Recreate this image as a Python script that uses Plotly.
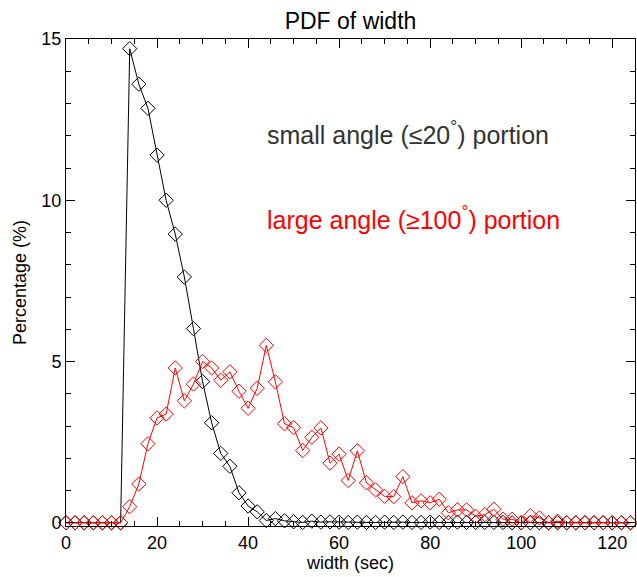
import plotly.graph_objects as go

x_vals = list(range(0, 126, 2))

small_angle = [0, 0, 0, 0, 0, 0, 0, 14.7, 13.6, 12.85, 11.4, 10.0, 8.95, 7.62, 6.02, 4.38,
               3.1, 2.15, 1.75, 0.93, 0.52, 0.34, 0.07, 0.13, 0.06, 0.03, 0.01, 0.05, 0.02, 0.03,
               0.02, 0.01, 0.02, 0.01, 0.01, 0.02, 0.01, 0.02, 0.01, 0.01, 0.02, 0.01, 0.01, 0.02,
               0.01, 0.01, 0.01, 0.01, 0.01, 0.0, 0.0, 0.0, 0.0, 0.0, 0.0, 0.0, 0.0, 0.0, 0.0, 0.0,
               0.0, 0.0, 0.0]

large_angle = [0, 0, 0, 0, 0, 0, 0, 0.5, 1.2, 2.45, 3.25, 3.37, 4.8, 3.78, 4.3, 5.0,
               4.8, 4.42, 4.68, 4.08, 3.55, 4.17, 5.5, 4.37, 3.07, 2.95, 2.24, 2.65, 2.94, 1.85,
               2.13, 1.31, 2.23, 1.24, 1.02, 0.82, 0.81, 1.43, 0.62, 0.68, 0.62, 0.73, 0.31, 0.40,
               0.40, 0.20, 0.25, 0.42, 0.11, 0.11, 0.0, 0.22, 0.15, 0.0, 0.05, 0.0, 0.0, 0.0, 0.0,
               0.0, 0.0, 0.0, 0.0]

x_ticks = [0, 20, 40, 60, 80, 100, 120]
y_ticks = [0, 5, 10, 15]

FONT = "Liberation Sans, Arial, Helvetica, sans-serif"

fig = go.Figure()
fig.add_trace(go.Scatter(x=x_vals, y=small_angle, mode="lines+markers",
                         line=dict(color="black", width=1),
                         marker=dict(symbol="diamond-open", size=11, color="black", line=dict(width=1)),
                         showlegend=False, cliponaxis=False, hoverinfo="skip"))
fig.add_trace(go.Scatter(x=x_vals, y=large_angle, mode="lines+markers",
                         line=dict(color="red", width=1),
                         marker=dict(symbol="diamond-open", size=11, color="red", line=dict(width=1)),
                         showlegend=False, cliponaxis=False, hoverinfo="skip"))

fig.add_annotation(x=0.35, y=0.807, xref="paper", yref="paper", xanchor="left", yanchor="middle",
                   text="small angle (≤20<sup>°</sup>) portion", showarrow=False,
                   font=dict(family=FONT, size=25, color="#333333"))
fig.add_annotation(x=0.35, y=0.632, xref="paper", yref="paper", xanchor="left", yanchor="middle",
                   text="large angle (≥100<sup>°</sup>) portion", showarrow=False,
                   font=dict(family=FONT, size=25, color="red"))

fig.update_layout(
    width=637, height=577,
    margin=dict(l=66, r=2, t=39, b=51, autoexpand=False),
    paper_bgcolor="white", plot_bgcolor="white",
    font=dict(family=FONT, size=18, color="black"),
    title=dict(text="PDF of width", x=0.5, xref="paper", xanchor="center",
               y=1 - 21 / 577, yanchor="middle", font=dict(size=23, color="black")),
)
fig.update_xaxes(range=[0, 125], tickvals=x_ticks, ticks="inside", ticklen=9, tickcolor="black",
                 showline=True, linecolor="black", linewidth=1, mirror="allticks", showgrid=False,
                 zeroline=False, tickfont=dict(size=18),
                 minor=dict(dtick=5, tick0=0, ticks="inside", ticklen=5, tickcolor="black", showgrid=False),
                 title=dict(text="width (sec)", standoff=4, font=dict(size=18)))
fig.update_yaxes(range=[-0.1, 15.0], tickvals=y_ticks, ticks="inside", ticklen=9, tickcolor="black",
                 showline=True, linecolor="black", linewidth=1, mirror="allticks", showgrid=False,
                 zeroline=False, tickfont=dict(size=18),
                 minor=dict(dtick=1, tick0=0, ticks="inside", ticklen=5, tickcolor="black", showgrid=False),
                 title=dict(text="Percentage (%)", standoff=10, font=dict(size=18)))

fig.write_html("out.html", config={"displayModeBar": False},
               post_script="document.body.style.margin='0';document.body.style.overflow='hidden';")
